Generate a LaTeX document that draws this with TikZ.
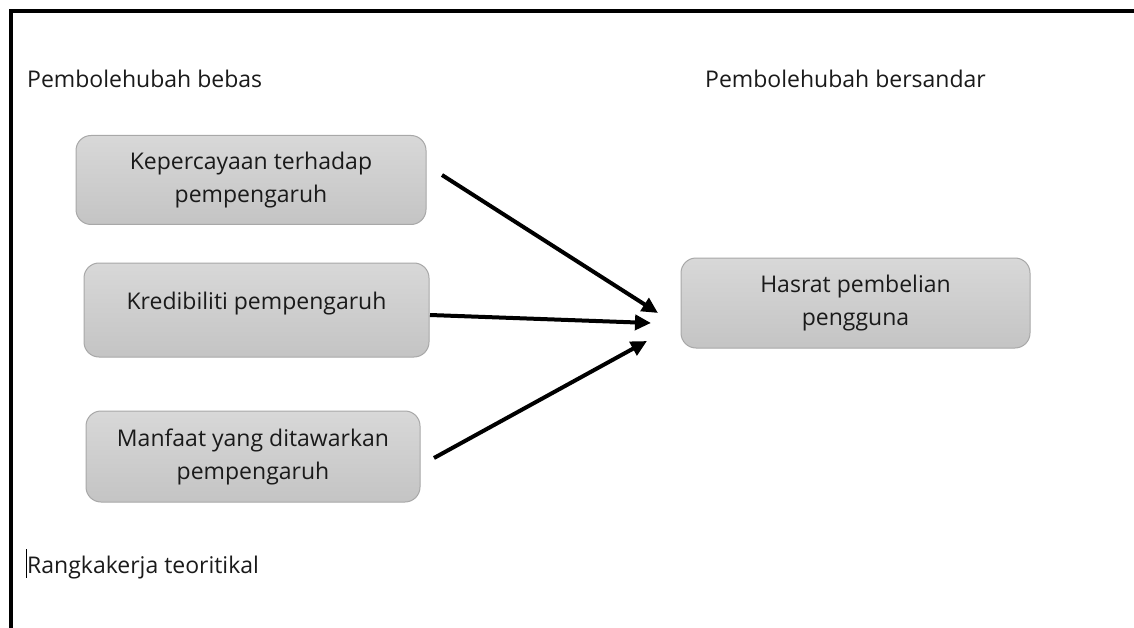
\documentclass[tikz,border=0pt]{standalone}
\usepackage{fontspec}
\setmainfont{Open Sans}
\usetikzlibrary{arrows.meta}
\definecolor{txt}{HTML}{1A1A1A}
\definecolor{boxtop}{HTML}{D8D8D8}
\definecolor{boxbot}{HTML}{C4C4C4}
\definecolor{boxline}{HTML}{A8A8A8}
\tikzset{
  vbox/.style={draw=boxline, line width=1pt, rounded corners=15pt,
    top color=boxtop, bottom color=boxbot, text=txt, align=center,
    font=\fontsize{23}{33}\selectfont, inner sep=0pt},
  lbl/.style={text=txt, font=\fontsize{23}{27}\selectfont, inner sep=0pt, anchor=base west},
  arr/.style={line width=4pt, -{Triangle[length=16pt,width=15pt]}},
  frame/.style={line width=4pt, black}
}
\begin{document}
\begin{tikzpicture}[x=1pt,y=-1pt]
\useasboundingbox (0,0) rectangle (1134,628);
\fill[white] (0,0) rectangle (1134,628);
\draw[frame] (1134,11) -- (11,11) -- (11,628);
\node[lbl] (lb1) at (27,88) {Pembolehubah bebas};
\node[lbl] (lb2) at (705,88) {Pembolehubah bersandar};
\node[lbl] (lb3) at (27,573) {Rangkakerja teoritikal};
\draw[black, line width=1pt] (26,549) -- (26,578);
\node[vbox, minimum width=350pt, minimum height=89pt] (b1) at (251,180) {Kepercayaan terhadap\\pempengaruh};
\node[vbox, minimum width=345pt, minimum height=94pt] (b2) at (256.5,310) {\raisebox{6pt}[\height][\depth]{Kredibiliti pempengaruh}};
\node[vbox, minimum width=334pt, minimum height=91pt] (b3) at (253,456.5) {Manfaat yang ditawarkan\\pempengaruh};
\node[vbox, minimum width=349pt, minimum height=90pt] (b4) at (855.5,303) {Hasrat pembelian\\pengguna};
\coordinate (s1) at (442,175);
\coordinate (e1) at (658,313);
\coordinate (s2) at (430,315);
\coordinate (e2) at (651,323);
\coordinate (s3) at (434,458);
\coordinate (e3) at (647,341);
\draw[arr] (s1) -- (e1);
\draw[arr] (s2) -- (e2);
\draw[arr] (s3) -- (e3);
\end{tikzpicture}
\end{document}
